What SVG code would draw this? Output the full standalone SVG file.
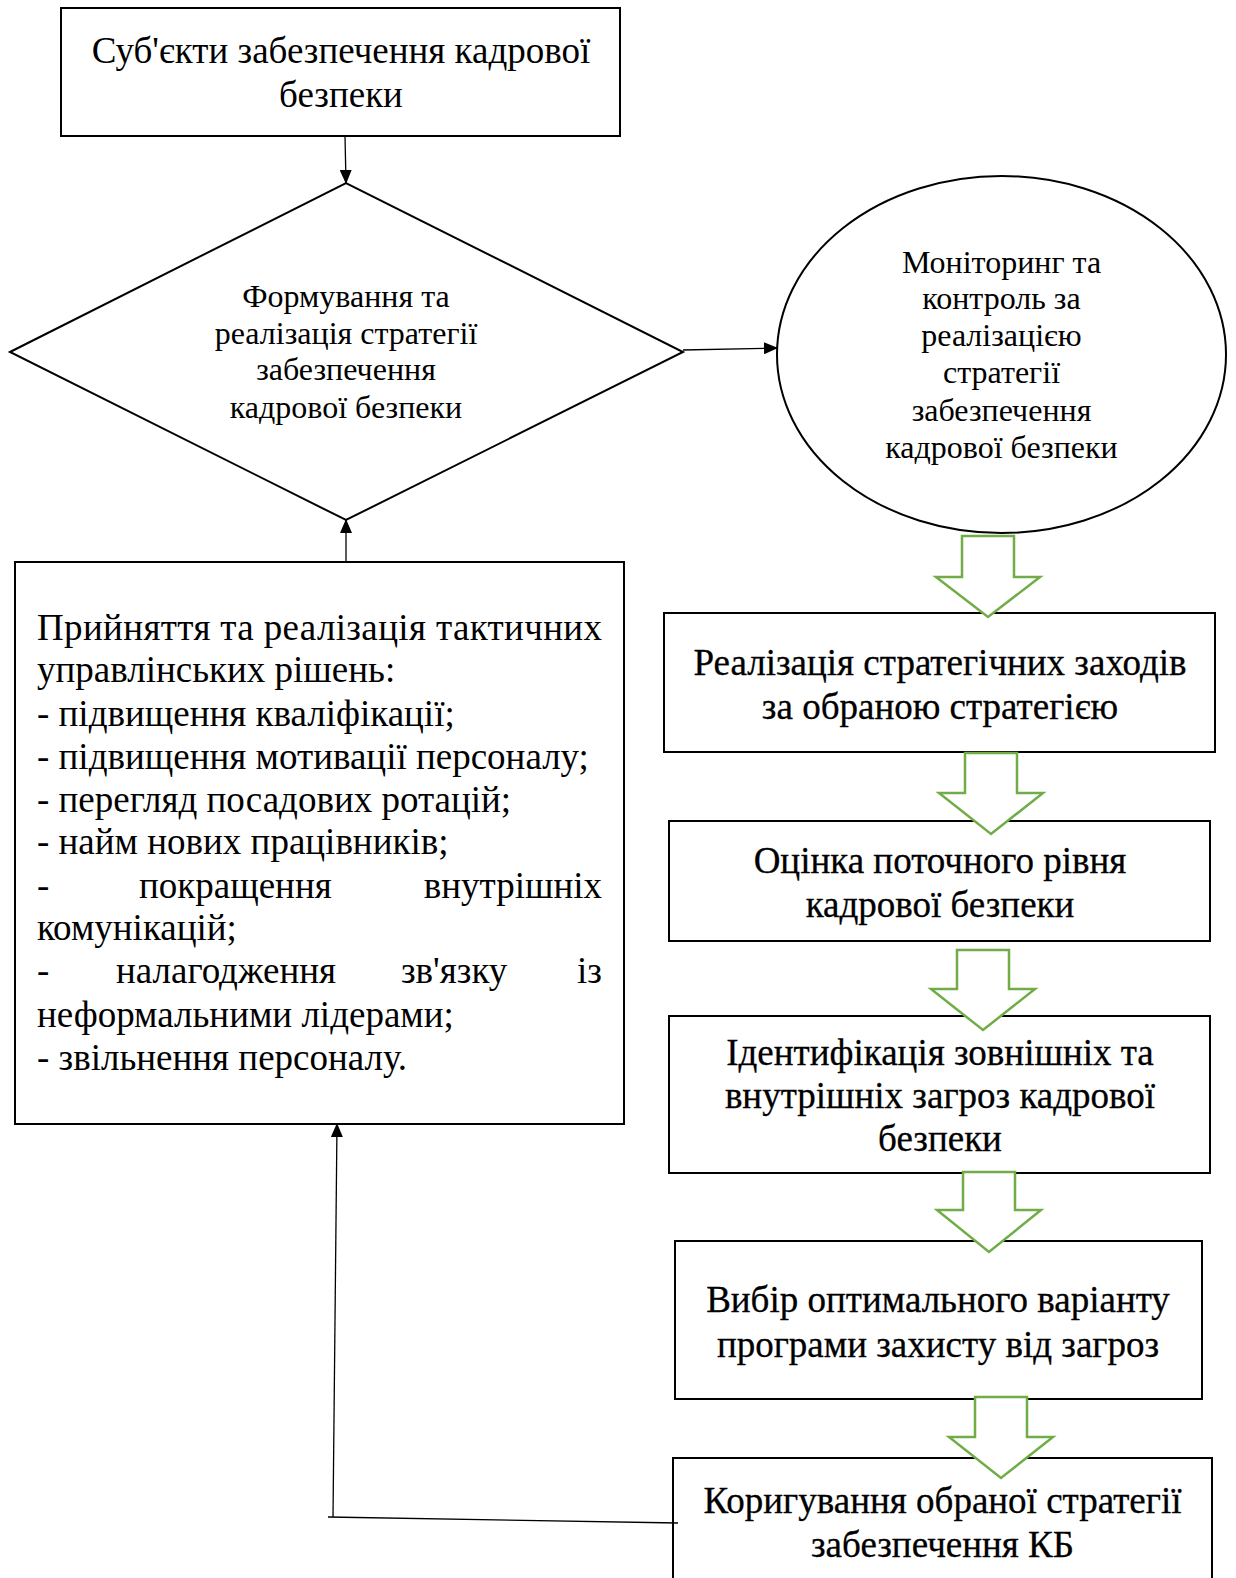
<svg xmlns="http://www.w3.org/2000/svg" width="1236" height="1578" viewBox="0 0 1236 1578">
<style>
.box{fill:#fff;stroke:#000;stroke-width:2}
.t{font-family:"Liberation Serif","Times New Roman",serif;fill:#000}
.big{font-size:37px}
.mid{font-size:32px}
.c{text-anchor:middle}
.e{text-anchor:end}
.heavy{stroke:#000;stroke-width:0.3}
.conn{stroke:#000;stroke-width:1.3;fill:none}
.green{fill:#fff;stroke:#70AD47;stroke-width:2.5}
</style>
<defs>
<marker id="ah" markerWidth="14" markerHeight="12" refX="13" refY="6" orient="auto" markerUnits="userSpaceOnUse"><path d="M0,0 L14,6 L0,12 z" fill="#000"/></marker>
</defs>

<g id="n-subjects">
<rect class="box" x="61" y="8" width="559" height="128"/>
<text class="t big c" x="341" y="63">Суб'єкти забезпечення кадрової</text>
<text class="t big c" x="341" y="107">безпеки</text>
</g>

<g id="n-strategy">
<polygon class="box" points="10,352 346,183 683,352 346,520"/>
<text class="t mid c" x="346" y="307">Формування та</text>
<text class="t mid c" x="346" y="344">реалізація стратегії</text>
<text class="t mid c" x="346" y="380">забезпечення</text>
<text class="t mid c" x="346" y="418">кадрової безпеки</text>
</g>

<g id="n-monitoring">
<ellipse class="box" cx="1001.5" cy="354.5" rx="224.5" ry="178.5"/>
<text class="t mid c" x="1001.5" y="273">Моніторинг та</text>
<text class="t mid c" x="1001.5" y="309">контроль за</text>
<text class="t mid c" x="1001.5" y="346">реалізацією</text>
<text class="t mid c" x="1001.5" y="383">стратегії</text>
<text class="t mid c" x="1001.5" y="421">забезпечення</text>
<text class="t mid c" x="1001.5" y="458">кадрової безпеки</text>
</g>

<g id="n-tactical">
<rect class="box" x="15" y="562" width="609" height="562"/>
<text class="t big" x="37" y="640" textLength="565" lengthAdjust="spacing">Прийняття та реалізація тактичних</text>
<text class="t big" x="37" y="682">управлінських рішень:</text>
<text class="t big" x="37" y="726">- підвищення кваліфікації;</text>
<text class="t big" x="37" y="769">- підвищення мотивації персоналу;</text>
<text class="t big" x="37" y="812">- перегляд посадових ротацій;</text>
<text class="t big" x="37" y="854">- найм нових працівників;</text>
<text class="t big" x="37" y="898">-</text>
<text class="t big" x="139" y="898">покращення</text>
<text class="t big e" x="602" y="898">внутрішніх</text>
<text class="t big" x="37" y="940">комунікацій;</text>
<text class="t big" x="37" y="983">-</text>
<text class="t big" x="116" y="983">налагодження</text>
<text class="t big" x="401" y="983">зв'язку</text>
<text class="t big e" x="602" y="983">із</text>
<text class="t big" x="37" y="1027">неформальними лідерами;</text>
<text class="t big" x="37" y="1070">- звільнення персоналу.</text>
</g>

<g id="n-implement">
<rect class="box" x="664" y="613" width="551" height="139"/>
<text class="t big c heavy" x="940" y="675">Реалізація стратегічних заходів</text>
<text class="t big c heavy" x="940" y="719">за обраною стратегією</text>
</g>

<g id="n-assess">
<rect class="box" x="669" y="821" width="541" height="120"/>
<text class="t big c heavy" x="940" y="873">Оцінка поточного рівня</text>
<text class="t big c heavy" x="940" y="917">кадрової безпеки</text>
</g>

<g id="n-identify">
<rect class="box" x="669" y="1016" width="541" height="157"/>
<text class="t big c heavy" x="940" y="1065">Ідентифікація зовнішніх та</text>
<text class="t big c heavy" x="940" y="1108">внутрішніх загроз кадрової</text>
<text class="t big c heavy" x="940" y="1151">безпеки</text>
</g>

<g id="n-choose">
<rect class="box" x="675" y="1241" width="527" height="158"/>
<text class="t big c heavy" x="938" y="1312">Вибір оптимального варіанту</text>
<text class="t big c heavy" x="938" y="1357">програми захисту від загроз</text>
</g>

<g id="n-correct">
<rect class="box" x="673" y="1458" width="539" height="140"/>
<text class="t big c heavy" x="942.5" y="1513">Коригування обраної стратегії</text>
<text class="t big c heavy" x="942.5" y="1557">забезпечення КБ</text>
</g>

<g id="connectors">
<line class="conn" x1="345" y1="136" x2="346" y2="183" marker-end="url(#ah)"/>
<line class="conn" x1="683" y1="350" x2="777" y2="348" marker-end="url(#ah)"/>
<line class="conn" x1="346" y1="563" x2="346" y2="520" marker-end="url(#ah)"/>
<line class="conn" x1="678" y1="1523" x2="328" y2="1517"/>
<line class="conn" x1="333" y1="1517" x2="337" y2="1124" marker-end="url(#ah)"/>
<path class="green" d="M962,536 H1014 V577 H1040 L988,617 L936,577 H962 Z"/>
<path class="green" d="M965,753 H1017 V793 H1043 L991,834 L939,793 H965 Z"/>
<path class="green" d="M957,950 H1009 V989 H1035 L983,1030 L931,989 H957 Z"/>
<path class="green" d="M963,1172 H1015 V1210 H1041 L989,1252 L937,1210 H963 Z"/>
<path class="green" d="M975,1397 H1027 V1437 H1053 L1001,1478 L949,1437 H975 Z"/>
</g>
</svg>
